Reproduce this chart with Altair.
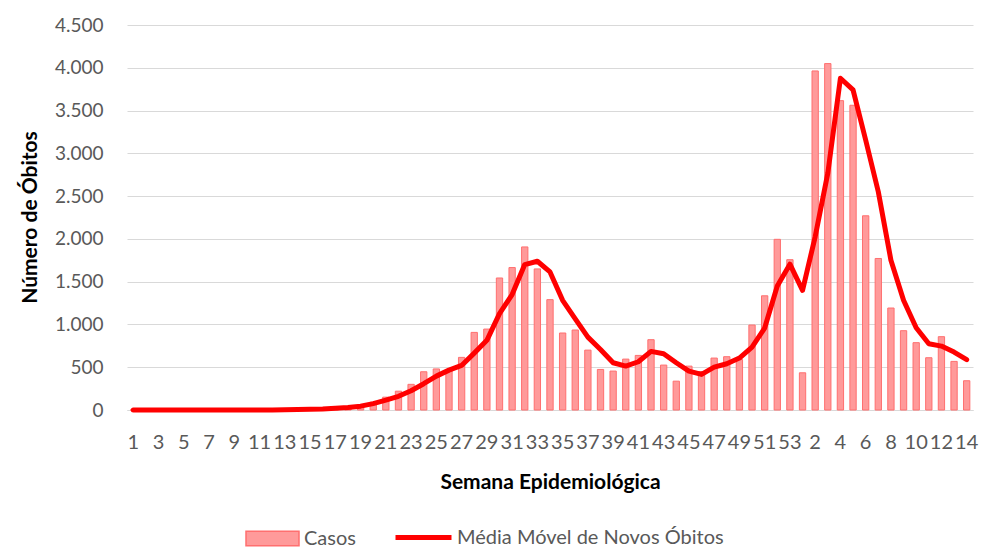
import altair as alt
import pandas as pd

# Semanas epidemiológicas: 1..53 (2020) seguidas de 1..14 (2021)
week_labels = [str(i) for i in range(1, 54)] + [str(i) for i in range(1, 15)]

casos = [
    0, 0, 0, 0, 0, 0, 0, 0, 0, 0,
    0, 2, 3, 5, 8, 12, 20, 30, 50, 90,
    150, 220, 300, 447, 480, 460, 615, 907, 946, 1543,
    1665, 1906, 1649, 1290, 900, 935, 700, 474, 455, 595,
    638, 822, 525, 337, 513, 450, 607, 623, 590, 993,
    1335, 1995, 1757,
    435, 3963, 4049, 3616, 3562, 2270, 1771, 1192, 927, 787,
    611, 857, 568, 342,
]

media_movel = [
    0, 0, 0, 0, 0, 0, 0, 0, 0, 0,
    0, 0, 3, 5, 8, 12, 20, 30, 45, 75,
    115, 160, 225, 307, 396, 466, 521, 665, 814, 1126,
    1349, 1700, 1739, 1614, 1282, 1065, 852, 708, 552, 513,
    564, 685, 658, 552, 454, 416, 501, 541, 607, 735,
    958, 1450, 1704,
    1399, 2024, 2766, 3878, 3742, 3156, 2551, 1751, 1283, 962,
    775, 747, 677, 588,
]

y_ticks = [0, 500, 1000, 1500, 2000, 2500, 3000, 3500, 4000, 4500]

df = pd.DataFrame({
    "idx": list(range(len(week_labels))),
    "semana": week_labels,
    "casos": casos,
    "media": media_movel,
    "s1": "Casos",
    "s2": "Média Móvel de Novos Óbitos",
})

FONT = "Lato"
LABEL_COLOR = "#595959"
GRID = "#d9d9d9"

x_enc = alt.X(
    "idx:O",
    title="Semana Epidemiológica",
    scale=alt.Scale(paddingInner=0.5, paddingOuter=0.25),
    axis=alt.Axis(
        values=list(range(0, len(week_labels), 2)),
        labelExpr="datum.value < 53 ? '' + (datum.value + 1) : '' + (datum.value - 52)",
        labelAngle=0,
        labelOverlap=False,
        labelFontSize=20,
        ticks=False,
        grid=False,
        domainColor=GRID,
        labelPadding=22,
        titlePadding=19,
    ),
)

bars = alt.Chart(df).mark_bar(
    stroke="#ff6f6f", strokeWidth=1, fillOpacity=1
).encode(
    x=x_enc,
    y=alt.Y(
        "casos:Q",
        title="Número de Óbitos",
        scale=alt.Scale(domain=[0, 4500], nice=False),
        axis=alt.Axis(
            values=y_ticks,
            labelExpr="replace(format(datum.value, ','), ',', '.')",
            domain=False,
            ticks=False,
            gridColor=GRID,
            labelPadding=24,
            titleX=-97,
            titleY=192,
            titleBaseline="middle",
            titleAlign="center",
        ),
    ),
    color=alt.Color(
        "s1:N",
        scale=alt.Scale(domain=["Casos"], range=["#ff9a9a"]),
        legend=alt.Legend(
            title=None,
            orient="none",
            legendX=118,
            legendY=486,
            symbolType="M-1,-0.27H1V0.27H-1Z",
            symbolSize=2809,
            symbolStrokeColor="#ff6f6f",
            symbolStrokeWidth=1.5,
            labelOffset=4,
            labelLimit=400,
        ),
    ),
)

line = alt.Chart(df).mark_line(
    color="#ff0000", strokeWidth=5, strokeCap="round", strokeJoin="round"
).encode(
    x=alt.X("idx:O"),
    y=alt.Y("media:Q"),
    color=alt.Color(
        "s2:N",
        scale=alt.Scale(domain=["Média Móvel de Novos Óbitos"], range=["#ff0000"]),
        legend=alt.Legend(
            title=None,
            orient="none",
            legendX=266,
            legendY=482,
            symbolType="stroke",
            symbolSize=3136,
            symbolStrokeWidth=5,
            labelOffset=3,
            labelLimit=400,
        ),
    ),
)

chart = (
    alt.layer(bars, line)
    .resolve_scale(color="independent")
    .properties(
        width=846,
        height=385,
        autosize=alt.AutoSizeParams(type="none"),
        padding={"left": 119, "top": 17, "right": 7, "bottom": 141},
    )
    .configure_view(stroke=None)
    .configure_axis(
        labelFont=FONT,
        labelFontSize=19,
        labelColor=LABEL_COLOR,
        titleFont=FONT,
        titleFontSize=21,
        titleFontWeight="bold",
        titleColor="#000000",
    )
    .configure_legend(
        labelFont=FONT,
        labelFontSize=20,
        labelColor=LABEL_COLOR,
    )
)

chart.save("out.html", embed_options={"renderer": "svg", "actions": False})
